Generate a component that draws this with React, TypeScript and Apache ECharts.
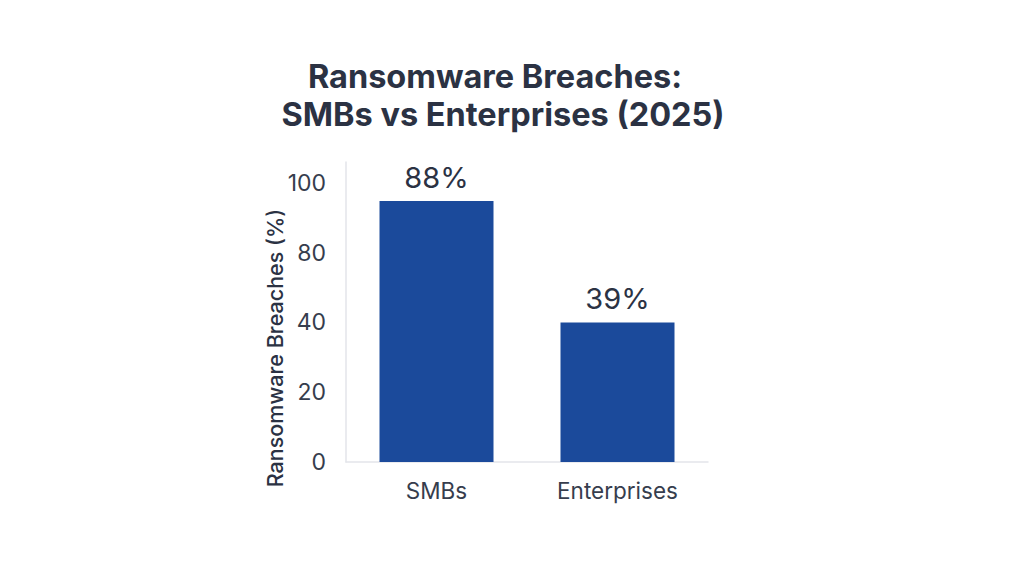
import React, { useEffect, useRef } from "react";
import * as echarts from "echarts";

const categories = ["SMBs", "Enterprises"];
// bar heights as drawn against the axis ticks
const barHeights = [93.5, 50];
// printed value labels
const valueLabels = ["88%", "39%"];
// axis positions and the tick labels printed at them
const tickPositions = [0, 25, 50, 75, 100];
const tickLabels = ["0", "20", "40", "80", "100"];
const titleLines = ["Ransomware Breaches:", "SMBs vs Enterprises (2025)"];
const yAxisTitle = "Ransomware Breaches (%)";

const FONT = "Inter, 'Noto Sans', sans-serif";
const TEXT = "#2b3243";

export default function App() {
  const ref = useRef<HTMLDivElement>(null);
  useEffect(() => {
    if (!ref.current) return;
    const chart = echarts.init(ref.current, null, { renderer: "svg" });
    chart.setOption({
      animation: false,
      backgroundColor: "#ffffff",
      textStyle: { fontFamily: FONT },
      grid: { left: 346, right: 316, top: 162, bottom: 114 },
      xAxis: {
        type: "category",
        data: categories,
        axisLine: { show: true, lineStyle: { color: "#e3e5ea", width: 1.5 } },
        axisTick: { show: false },
        axisLabel: { color: "#363d4d", fontSize: 22.5, margin: 17, fontFamily: FONT },
      },
      yAxis: {
        type: "value",
        min: 0,
        max: 107.5,
        interval: 25,
        axisLine: { show: true, lineStyle: { color: "#e3e5ea", width: 1.5 } },
        axisTick: { show: false },
        splitLine: { show: false },
        axisLabel: {
          color: "#363d4d",
          fontSize: 23,
          margin: 20,
          fontFamily: FONT,
          showMaxLabel: false,
          formatter: (v: number) => {
            const i = tickPositions.indexOf(v);
            return i >= 0 ? tickLabels[i] : "";
          },
        },
      },
      series: [
        {
          type: "bar",
          data: barHeights,
          barWidth: 114,
          itemStyle: { color: "#1b4a9b" },
          label: {
            show: true,
            position: "top",
            distance: 9,
            color: TEXT,
            fontSize: 29,
            fontFamily: FONT,
            formatter: (p: any) => valueLabels[p.dataIndex],
          },
        },
      ],
      graphic: [
        {
          type: "text",
          x: 495,
          y: 76,
          style: {
            text: titleLines[0],
            align: "center",
            verticalAlign: "middle",
            fontSize: 32.5,
            fontWeight: 700,
            fontFamily: FONT,
            fill: TEXT,
          },
        },
        {
          type: "text",
          x: 503,
          y: 114,
          style: {
            text: titleLines[1],
            align: "center",
            verticalAlign: "middle",
            fontSize: 32.5,
            fontWeight: 700,
            fontFamily: FONT,
            fill: TEXT,
          },
        },
        {
          type: "text",
          x: 275,
          y: 348,
          rotation: Math.PI / 2,
          style: {
            text: yAxisTitle,
            align: "center",
            verticalAlign: "middle",
            fontSize: 21.5,
            fontWeight: 500,
            fontFamily: FONT,
            fill: TEXT,
          },
        },
      ],
    });
    return () => chart.dispose();
  }, []);
  return (
    <div
      ref={ref}
      style={{ position: "fixed", left: 0, top: 0, width: 1024, height: 576 }}
    />
  );
}
